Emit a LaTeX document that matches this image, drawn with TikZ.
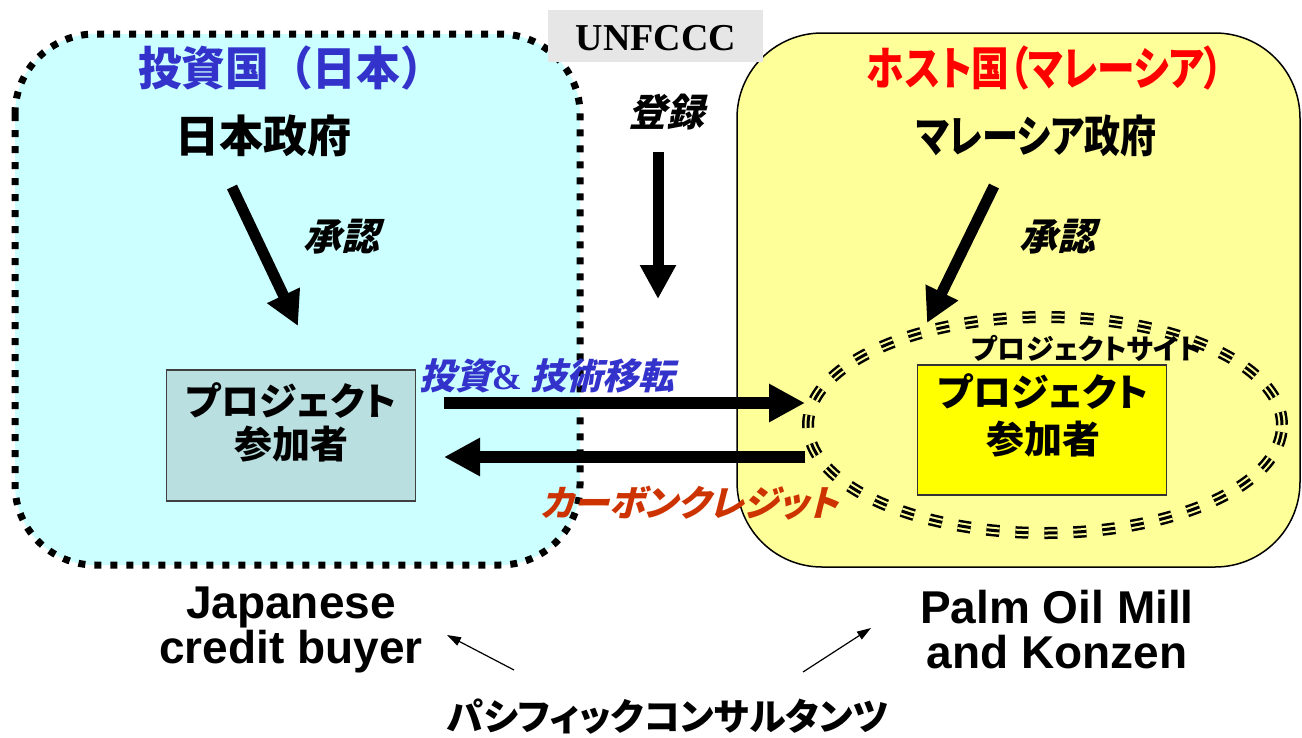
\documentclass[tikz,border=0pt]{standalone}
\usepackage{fontspec}
\usetikzlibrary{arrows.meta}
\newfontfamily\jp[RawFeature=+palt]{Noto Sans CJK JP}
\newfontfamily\jpn[FakeStretch=0.95]{Noto Sans CJK JP}
\newfontfamily\jpc[RawFeature=+palt,FakeStretch=0.82]{Noto Sans CJK JP}
\newfontfamily\jpsl[RawFeature=+palt,FakeSlant=0.25]{Noto Sans CJK JP}
\newfontfamily\arialf{Liberation Sans}
\newfontfamily\timesf{Liberation Serif}
\definecolor{cyanbg}{HTML}{CCFFFF}
\definecolor{yellowbg}{HTML}{FFFF99}
\definecolor{tealbox}{HTML}{B9DFE1}
\definecolor{yellowbox}{HTML}{FFFF00}
\definecolor{ungray}{HTML}{E6E6E6}
\definecolor{jpblue}{HTML}{3333CC}
\definecolor{credred}{HTML}{CC3300}
\tikzset{
  bigarrow/.style={line width=12pt,-{Triangle[length=36pt,width=36pt]}},
  diagarrow/.style={line width=11pt,-{Triangle[length=34pt,width=34pt]}},
  thinarrow/.style={line width=1.2pt,-{Triangle[length=14pt,width=9pt]}},
  lbl/.style={inner sep=0pt,anchor=center},
  sitedash/.style={dash pattern=on 13pt off 16pt},
}
\begin{document}
\begin{tikzpicture}[x=1pt,y=-1pt]
\useasboundingbox[fill=white] (0,0) rectangle (1302,737);
% country regions
\draw[fill=cyanbg,line width=7pt,dash pattern=on 7pt off 9pt,rounded corners=80pt] (15,34) rectangle (580,565);
\draw[fill=yellowbg,line width=1.5pt,rounded corners=85pt] (737,33) rectangle (1300,567);
% UNFCCC
\node[fill=ungray,minimum width=215pt,minimum height=52pt,inner sep=0pt] (un) at (655.5,36) {};
\node[lbl] (untext) at (656,38) {\timesf\bfseries\fontsize{38}{38}\selectfont UNFCCC};
% titles
\node[lbl,text=jpblue] (inv) at (291,68) {\jpn\bfseries\fontsize{46}{46}\selectfont 投資国（日本）};
\node[lbl,text=red] (host) at (1045,68) {\jpc\bfseries\fontsize{46}{46}\selectfont ホスト国（マレーシア）};
\node[lbl] (jgov) at (263,136) {\jp\bfseries\fontsize{44}{44}\selectfont 日本政府};
\node[lbl] (mgov) at (1036,136) {\jpc\bfseries\fontsize{44}{44}\selectfont マレーシア政府};
\node[lbl] (reg) at (666,112) {\jpsl\bfseries\fontsize{38}{38}\selectfont 登録};
\node[lbl] (appl) at (341,237) {\jpsl\bfseries\fontsize{38}{38}\selectfont 承認};
\node[lbl] (appr) at (1057,237) {\jpsl\bfseries\fontsize{38}{38}\selectfont 承認};
% project site ellipse
\coordinate (ellc) at (1045,425);
\draw[sitedash,line width=12pt] (ellc) ellipse[x radius=237pt,y radius=108pt];
\draw[sitedash,yellowbg,line width=7pt] (ellc) ellipse[x radius=237pt,y radius=108pt];
\draw[sitedash,line width=3pt] (ellc) ellipse[x radius=237pt,y radius=108pt];
\node[lbl] (site) at (1087,348) {\jp\bfseries\fontsize{28}{28}\selectfont プロジェクトサイト};
% participant boxes
\node[draw=black!75,line width=1.5pt,fill=tealbox,minimum width=249pt,minimum height=131pt,inner sep=0pt] (lpp) at (291,435.5) {};
\node[lbl,align=center,font={\jp\bfseries\fontsize{38}{43}\selectfont}] (lpptext) at (291,422) {プロジェクト\\参加者};
\node[draw=black!80,line width=1.5pt,fill=yellowbox,minimum width=249pt,minimum height=130pt,inner sep=0pt] (rpp) at (1042,430) {};
\node[lbl,align=center,font={\jp\bfseries\fontsize{38}{47}\selectfont}] (rpptext) at (1043,415) {プロジェクト\\参加者};
% arrows
\coordinate (jgs) at (232,187); \coordinate (jge) at (298,326);
\coordinate (mgs) at (994,186); \coordinate (mge) at (927,323);
\coordinate (rgs) at (658,152); \coordinate (rge) at (658,299);
\draw[diagarrow] (jgs) -- (jge);
\draw[diagarrow] (mgs) -- (mge);
\draw[diagarrow] (rgs) -- (rge);
\coordinate (ias) at (444,403); \coordinate (iae) at (805,403);
\coordinate (cas) at (805,457); \coordinate (cae) at (444,457);
\draw[bigarrow] (ias) -- (iae);
\draw[bigarrow] (cas) -- (cae);
\node[lbl,text=jpblue] (invtxt) at (547,376) {\jpsl\bfseries\fontsize{36}{36}\selectfont 投資{\timesf\bfseries\&} 技術移転};
\node[lbl,text=credred] (credtxt) at (690,503) {\jpsl\bfseries\fontsize{36}{36}\selectfont カーボンクレジット};
% bottom labels
\node[lbl,align=center,font={\arialf\bfseries\fontsize{46}{45}\selectfont}] (buyer) at (291,630) {Japanese\\credit buyer};
\node[lbl,align=center,font={\arialf\bfseries\fontsize{46}{45}\selectfont}] (mill) at (1057,630) {Palm Oil Mill\\and Konzen};
\node[lbl] (pac) at (668,717) {\jp\bfseries\fontsize{37}{37}\selectfont パシフィックコンサルタンツ};
\coordinate (pl) at (514,670); \coordinate (plt) at (447,635);
\coordinate (pr) at (803,672); \coordinate (prt) at (871,628);
\draw[thinarrow] (pl) -- (plt);
\draw[thinarrow] (pr) -- (prt);
\end{tikzpicture}
\end{document}
